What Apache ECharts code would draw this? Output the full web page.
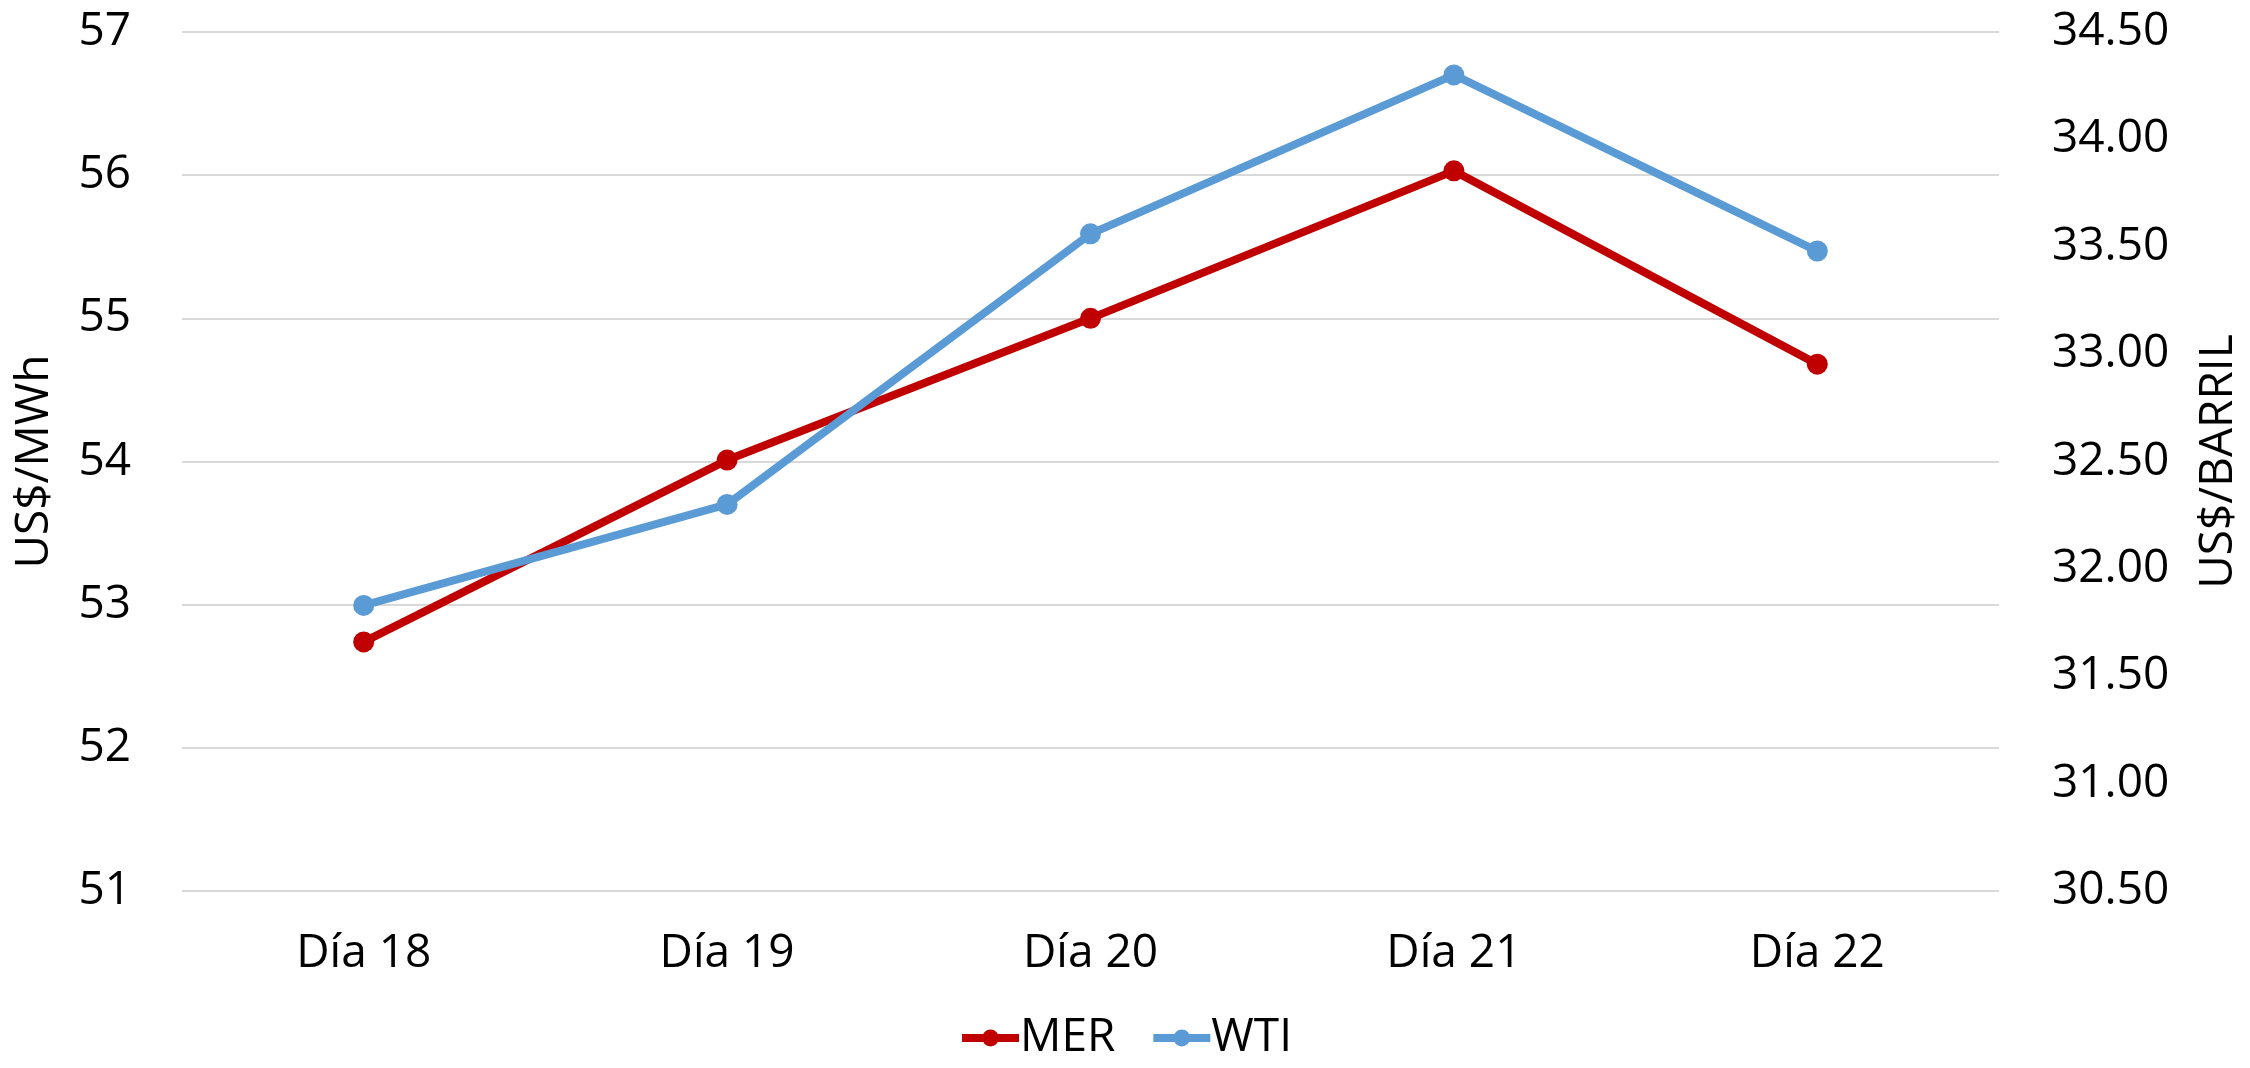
<!DOCTYPE html>
<html>
<head>
<meta charset="utf-8">
<script src="https://cdn.jsdelivr.net/npm/echarts@6/dist/echarts.min.js"></script>
<style>html,body{margin:0;padding:0;background:#fff}#c{width:2250px;height:1068px}</style>
</head>
<body>
<div id="c"></div>
<script>
const categories = ['Día 18', 'Día 19', 'Día 20', 'Día 21', 'Día 22'];
const merValues = [52.74, 54.01, 55.00, 56.03, 54.68];
const wtiValues = [31.83, 32.30, 33.56, 34.30, 33.48];
const leftTicks = [51, 57, 1];
const rightTicks = [30.5, 34.5, 0.5];

const FONT = '"Open Sans", sans-serif';
const chart = echarts.init(document.getElementById('c'));
chart.setOption({
  animation: false,
  backgroundColor: '#fff',
  textStyle: { fontFamily: FONT },
  grid: { left: 182, right: 244, top: 32, bottom: 177, containLabel: false },
  legend: {
    bottom: 2,
    left: 'center',
    itemWidth: 57,
    itemHeight: 21,
    itemGap: 34,
    lineStyle: { width: 8 },
    textStyle: { fontSize: 46, color: '#000', fontFamily: FONT, padding: [0, 0, 0, -4] },
    data: ['MER', 'WTI']
  },
  xAxis: {
    type: 'category',
    data: categories,
    boundaryGap: true,
    axisLine: { show: false },
    axisTick: { show: false },
    axisLabel: { fontSize: 46, color: '#000', margin: 40, fontFamily: FONT }
  },
  yAxis: [
    {
      type: 'value',
      min: leftTicks[0], max: leftTicks[1], interval: leftTicks[2],
      name: 'US$/MWh',
      nameLocation: 'middle',
      nameGap: 124,
      nameRotate: 90,
      nameTextStyle: { fontSize: 46, color: '#000', fontFamily: FONT },
      axisLine: { show: false },
      axisTick: { show: false },
      axisLabel: { fontSize: 46, color: '#000', margin: 51, fontFamily: FONT },
      splitLine: { lineStyle: { color: '#D9D9D9', width: 2 } }
    },
    {
      type: 'value',
      position: 'right',
      min: rightTicks[0], max: rightTicks[1], interval: rightTicks[2],
      name: 'US$/BARRIL',
      nameLocation: 'middle',
      nameGap: 197,
      nameRotate: 90,
      nameTextStyle: { fontSize: 46, color: '#000', fontFamily: FONT },
      axisLine: { show: false },
      axisTick: { show: false },
      axisLabel: { fontSize: 46, color: '#000', margin: 53, fontFamily: FONT,
        formatter: v => v.toFixed(2) },
      splitLine: { show: false }
    }
  ],
  series: [
    {
      name: 'MER', type: 'line', yAxisIndex: 0, data: merValues,
      symbol: 'circle', symbolSize: 21,
      lineStyle: { color: '#C00000', width: 8 },
      itemStyle: { color: '#C00000' }
    },
    {
      name: 'WTI', type: 'line', yAxisIndex: 1, data: wtiValues,
      symbol: 'circle', symbolSize: 21,
      lineStyle: { color: '#5B9BD5', width: 8 },
      itemStyle: { color: '#5B9BD5' }
    }
  ]
});
</script>
</body>
</html>
